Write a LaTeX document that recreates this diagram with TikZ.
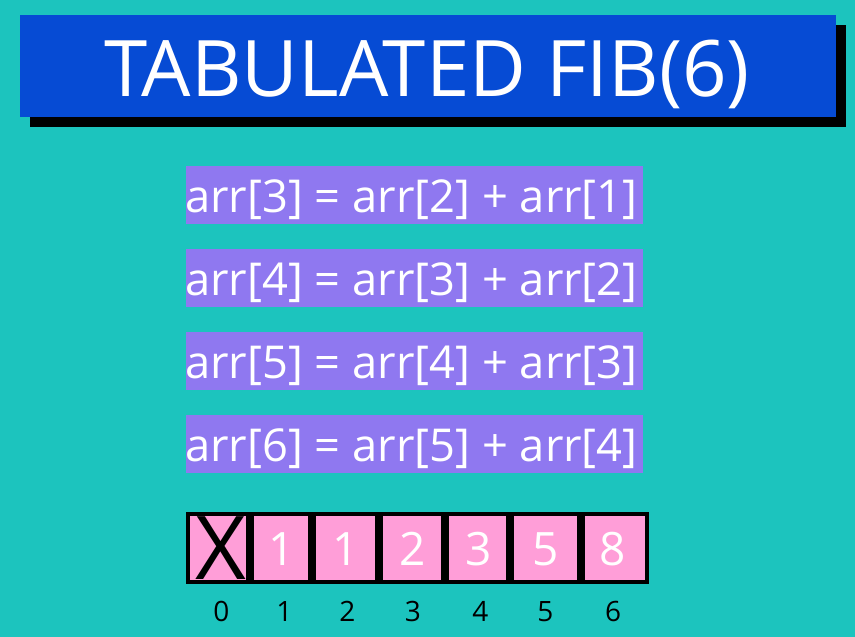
\documentclass[tikz,border=0pt]{standalone}
\usepackage{fontspec}
\setmainfont{Open Sans}

\definecolor{bgteal}{RGB}{28,196,190}
\definecolor{titleblue}{RGB}{6,75,212}
\definecolor{eqpurple}{RGB}{143,120,240}
\definecolor{cellpink}{RGB}{255,158,216}

\tikzset{
  eqtext/.style={anchor=base west, inner sep=0, text=white, font=\fontsize{45.3}{50}\selectfont},
  cellnum/.style={anchor=base, inner sep=0, text=white, font=\fontsize{46}{50}\selectfont},
  idxnum/.style={anchor=base, inner sep=0, text=black, font=\fontsize{28}{32}\selectfont}
}

\begin{document}
\begin{tikzpicture}[x=1pt, y=-1pt]

\fill[bgteal] (0,0) rectangle (855,637);
\useasboundingbox (0,0) rectangle (855,637);


% Title banner with shadow
\filldraw[fill=black, draw=black] (30,25) rectangle (845,126);
\filldraw[fill=titleblue, draw=titleblue] (20,15) rectangle (835,116);

\path 
(427,96) node[anchor=base, inner sep=0, text=white, font=\fontsize{78}{80}\selectfont] (title) {TABULATED FIB(6)};


% Recurrence steps
\fill[eqpurple] (186,166) rectangle (643,224);
\path (185,212) node[eqtext] (stepthree) {arr[3] = arr[2] + arr[1]};

\fill[eqpurple] (186,249) rectangle (643,307);
\path (185,295) node[eqtext] (stepfour) {arr[4] = arr[3] + arr[2]};

\fill[eqpurple] (186,332) rectangle (643,390);
\path (185,378) node[eqtext] (stepfive) {arr[5] = arr[4] + arr[3]};

\fill[eqpurple] (186,415) rectangle (643,473);
\path (185,461) node[eqtext] (stepsix) {arr[6] = arr[5] + arr[4]};


% Table cells (left and right edges)
\foreach \l/\r in {186/250, 250/311.5, 311.5/379, 379/444.5, 444.5/510, 510/580.5, 580.5/648.5}
  \filldraw[fill=cellpink, draw=black, line width=4pt] (\l+2,514) rectangle (\r-2,581.5);

\path 
(221,579) node[anchor=base, inner sep=0, text=black, font=\fontsize{88}{90}\selectfont] (cellzero) {X};

\foreach \x/\v [count=\i] in {282/1, 346/1, 413/2, 479/3, 546/5, 612.5/8}
  \path (\x,565) node[cellnum] (cell\i) {\v};


% Indices
\foreach \x [count=\i from 0] in {221.5, 284.5, 347.5, 413, 480.5, 545.5, 613}
  \path (\x,621) node[idxnum] (idx\i) {\i};


\end{tikzpicture}
\end{document}
